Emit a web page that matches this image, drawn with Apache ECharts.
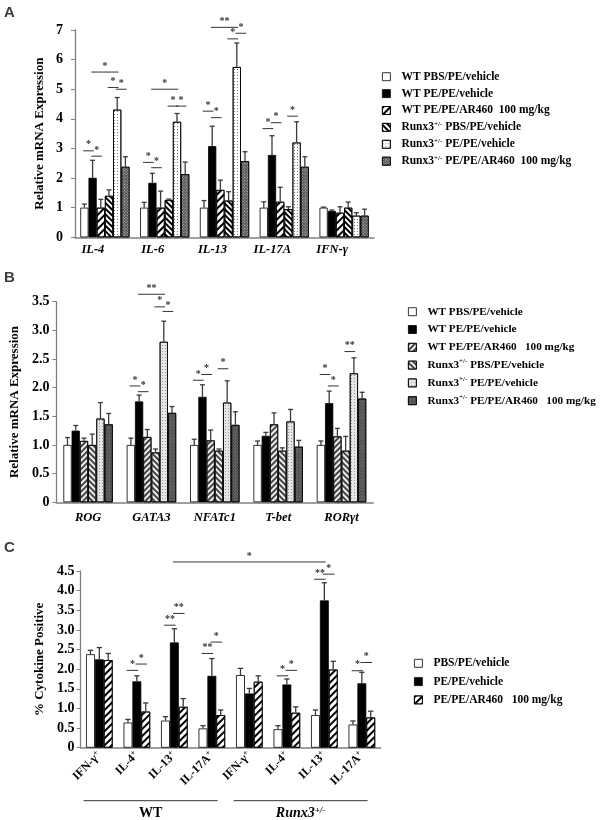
<!DOCTYPE html>
<html><head><meta charset="utf-8">
<script src="https://cdn.jsdelivr.net/npm/echarts@6/dist/echarts.min.js"></script>
<style>html,body{margin:0;padding:0;background:#fff}#c{width:600px;height:820px}</style>
</head><body><div id="c"></div>
<script>
// ================= DATA =================
// Panel A
const catsA = ['IL-4', 'IL-6', 'IL-13', 'IL-17A', 'IFN-γ'];
const namesA = ['WT PBS/PE/vehicle', 'WT PE/PE/vehicle', 'WT PE/PE/AR460  100 mg/kg',
  'Runx3+/- PBS/PE/vehicle', 'Runx3+/- PE/PE/vehicle', 'Runx3+/- PE/PE/AR460  100 mg/kg'];
const wtPbsA = [1.0, 1.0, 1.0, 1.0, 1.0];
const wtPeA = [2.01, 1.84, 3.08, 2.78, 0.89];
const wtArA = [1.0, 1.0, 1.6, 1.2, 0.83];
const rxPbsA = [1.4, 1.26, 1.24, 0.95, 1.0];
const rxPeA = [4.31, 3.9, 5.75, 3.2, 0.73];
const rxArA = [2.38, 2.13, 2.57, 2.38, 0.73];
const wtPbsAErr = [0.12, 0.18, 0.24, 0.2, 0.02];
const wtPeAErr = [0.59, 0.32, 0.67, 0.65, 0.03];
const wtArAErr = [0.28, 0.56, 0.33, 0.49, 0.2];
const rxPbsAErr = [0.2, 0.03, 0.3, 0.08, 0.19];
const rxPeAErr = [0.41, 0.28, 0.81, 0.7, 0.1];
const rxArAErr = [0.34, 0.41, 0.32, 0.34, 0.22];
// significance: [catFrom, barFrom, catTo, barTo, level, label]
const sigA = [
  [0,0,0,1,2.92,'*'],[0,1,0,2,2.74,'*'],[0,1,0,4,5.58,'*'],[0,3,0,4,5.06,'*'],[0,4,0,5,5.0,'*'],
  [1,0,1,1,2.53,'*'],[1,1,1,2,2.35,'*'],[1,1,1,4,5.0,'*'],[1,3,1,4,4.43,'*'],[1,4,1,5,4.43,'*'],
  [2,0,2,1,4.26,'*'],[2,1,2,2,4.04,'*'],[2,1,2,4,7.09,'**'],[2,3,2,4,6.7,'*'],[2,4,2,5,6.89,'*'],
  [3,0,3,1,3.67,'*'],[3,1,3,2,3.87,'*'],[3,3,3,4,4.09,'*']
];

// Panel B
const catsB = ['ROG', 'GATA3', 'NFATc1', 'T-bet', 'RORγt'];
const namesB = ['WT PBS/PE/vehicle', 'WT PE/PE/vehicle', 'WT PE/PE/AR460   100 mg/kg',
  'Runx3+/- PBS/PE/vehicle', 'Runx3+/- PE/PE/vehicle', 'Runx3+/- PE/PE/AR460   100 mg/kg'];
const wtPbsB = [1.0, 1.0, 1.0, 1.0, 1.0];
const wtPeB = [1.25, 1.76, 1.84, 1.16, 1.73];
const wtArB = [1.07, 1.14, 1.08, 1.36, 1.15];
const rxPbsB = [1.0, 0.87, 0.9, 0.9, 0.9];
const rxPeB = [1.46, 2.8, 1.74, 1.41, 2.25];
const rxArB = [1.36, 1.56, 1.35, 0.97, 1.81];
const wtPbsBErr = [0.13, 0.12, 0.1, 0.07, 0.07];
const wtPeBErr = [0.09, 0.11, 0.21, 0.06, 0.21];
const wtArBErr = [0.05, 0.13, 0.18, 0.2, 0.14];
const rxPbsBErr = [0.19, 0.06, 0.03, 0.05, 0.25];
const rxPeBErr = [0.28, 0.36, 0.38, 0.21, 0.27];
const rxArBErr = [0.19, 0.11, 0.23, 0.11, 0.11];
const sigB = [
  [1,0,1,1,2.03,'*'],[1,1,1,2,1.93,'*'],[1,1,1,4,3.63,'**'],[1,3,1,4,3.41,'*'],[1,4,1,5,3.33,'*'],
  [2,0,2,1,2.13,'*'],[2,1,2,2,2.23,'*'],[2,3,2,4,2.33,'*'],
  [4,0,4,1,2.23,'*'],[4,1,4,2,2.03,'*'],[4,3,4,4,2.63,'**']
];

// Panel C
const catsC = ['IFN-γ+', 'IL-4+', 'IL-13+', 'IL-17A+', 'IFN-γ+ ', 'IL-4+ ', 'IL-13+ ', 'IL-17A+ '];
const namesC = ['PBS/PE/vehicle', 'PE/PE/vehicle', 'PE/PE/AR460   100 mg/kg'];
const pbsC = [2.38, 0.64, 0.69, 0.49, 1.85, 0.47, 0.83, 0.59];
const peC = [2.25, 1.69, 2.68, 1.83, 1.38, 1.61, 3.75, 1.64];
const arC = [2.23, 0.92, 1.04, 0.83, 1.68, 0.89, 1.99, 0.77];
const pbsCErr = [0.1, 0.08, 0.1, 0.07, 0.17, 0.09, 0.13, 0.09];
const peCErr = [0.3, 0.14, 0.35, 0.44, 0.13, 0.14, 0.45, 0.28];
const arCErr = [0.17, 0.22, 0.21, 0.13, 0.15, 0.15, 0.21, 0.16];
const sigC = [
  [1,0,1,1,1.97,'*'],[1,1,1,2,2.13,'*'],
  [2,0,2,1,3.12,'**'],[2,1,2,2,3.42,'**'],
  [3,0,3,1,2.4,'**'],[3,1,3,2,2.69,'*'],
  [5,0,5,1,1.83,'*'],[5,1,5,2,1.97,'*'],
  [6,0,6,1,4.29,'**'],[6,1,6,2,4.42,'*'],
  [7,0,7,1,1.96,'*'],[7,1,7,2,2.17,'*'],
  [2,1,6,1,4.73,'*']
];
const groupsC = [['WT', 0, 3], ['Runx3+/-', 4, 7]];
const ticksA = { min: 0, max: 7, interval: 1 };
const ticksB = { min: 0, max: 3.5, interval: 0.5 };
const ticksC = { min: 0, max: 4.5, interval: 0.5 };

// ================= STYLE / LAYOUT =================
const SERIF = '"Liberation Serif", "DejaVu Serif", serif';
const GAP_A = 0.177, GAP_B = 0.22, GAP_C = 0.29;
const valsA = [wtPbsA, wtPeA, wtArA, rxPbsA, rxPeA, rxArA];
const errsA = [wtPbsAErr, wtPeAErr, wtArAErr, rxPbsAErr, rxPeAErr, rxArAErr];
const valsB = [wtPbsB, wtPeB, wtArB, rxPbsB, rxPeB, rxArB];
const errsB = [wtPbsBErr, wtPeBErr, wtArBErr, rxPbsBErr, rxPeBErr, rxArBErr];
const valsC = [pbsC, peC, arC];
const errsC = [pbsCErr, peCErr, arCErr];

const lineDecal = (rot, w, g, col) => ({symbol: 'rect', symbolSize: 1, dashArrayX: [1, 0], dashArrayY: [w, g], rotation: rot, color: col});
const dotDecal = (s, g, col, rot) => ({symbol: 'rect', symbolSize: 1, dashArrayX: [s, g], dashArrayY: [s, g], rotation: rot || 0, color: col});
const stylesA = [
  {color: '#fff'},
  {color: '#000'},
  {color: '#fff', decal: lineDecal(-Math.PI / 4, 1.3, 2.2, '#000')},
  {color: '#fff', decal: lineDecal(Math.PI / 4, 1.2, 1.5, '#000')},
  {color: '#fff', decal: dotDecal(1, 1.5, '#777')},
  {color: '#555', decal: dotDecal(1, 1, '#bbb', Math.PI / 4)}
];
const stylesB = [
  {color: '#fff'},
  {color: '#000'},
  {color: '#eee', decal: lineDecal(-Math.PI / 4, 1.2, 1.6, '#444')},
  {color: '#eee', decal: lineDecal(Math.PI / 4, 1.1, 1.4, '#444')},
  {color: '#e6e6e6', decal: dotDecal(1, 1.5, '#999')},
  {color: '#666', decal: dotDecal(1, 1, '#333', Math.PI / 4)}
];
const stylesC = [
  {color: '#fff'},
  {color: '#000'},
  {color: '#fff', decal: lineDecal(-Math.PI / 4, 1.6, 2.2, '#000')}
];

function barX(api, cat, idx, n, gap) {
  const c = api.coord([cat, 0])[0];
  const band = api.size([1, 0])[0];
  const gw = band * (1 - gap);
  const bw = gw / n;
  return {x: c - gw / 2 + (idx + 0.5) * bw, bw: bw};
}
function errSeries(vals, errs, n, gap, ax) {
  const data = [];
  vals.forEach((arr, s) => arr.forEach((v, c) => data.push([c, s, v, errs[s][c]])));
  return {
    type: 'custom', xAxisIndex: ax, yAxisIndex: ax, z: 5, silent: true,
    data: data, encode: {x: 0, y: 2},
    renderItem: function (p, api) {
      const cat = api.value(0), idx = api.value(1), v = api.value(2), e = api.value(3);
      const b = barX(api, cat, idx, n, gap);
      const y0 = api.coord([cat, v])[1], y1 = api.coord([cat, v + e])[1];
      const cap = Math.max(b.bw * 0.3, 2);
      const st = {stroke: '#3a3a3a', lineWidth: 1.3};
      return {type: 'group', children: [
        {type: 'line', shape: {x1: b.x, y1: y0, x2: b.x, y2: y1}, style: st},
        {type: 'line', shape: {x1: b.x - cap, y1: y1, x2: b.x + cap, y2: y1}, style: st}
      ]};
    }
  };
}
function sigSeries(list, n, gap, ax) {
  return {
    type: 'custom', xAxisIndex: ax, yAxisIndex: ax, z: 6, silent: true,
    data: list.map(d => [d[0], d[4]]), encode: {x: 0, y: 1},
    renderItem: function (p, api) {
      const d = list[p.dataIndex];
      const a = barX(api, d[0], d[1], n, gap), b = barX(api, d[2], d[3], n, gap);
      const y = api.coord([d[0], d[4]])[1];
      const ext = a.bw * 0.15;
      const x1 = a.x - ext, x2 = b.x + ext;
      return {type: 'group', children: [
        {type: 'line', shape: {x1: x1, y1: y, x2: x2, y2: y}, style: {stroke: '#333', lineWidth: 1}},
        {type: 'text', style: {text: d[5], x: (x1 + x2) / 2, y: y - 1, align: 'center', verticalAlign: 'bottom',
          font: 'bold 10px ' + SERIF, fill: '#333'}}
      ]};
    }
  };
}
function barSeries(names, vals, styles, ax, prefix, gap) {
  return names.map((nm, i) => ({
    type: 'bar', name: prefix + nm, xAxisIndex: ax, yAxisIndex: ax,
    data: vals[i], barGap: 0, barCategoryGap: (gap * 100) + '%',
    itemStyle: Object.assign({borderColor: '#000', borderWidth: 0.8}, styles[i]),
    emphasis: {disabled: true}
  }));
}
const supRich = {
  sup: {fontFamily: SERIF, fontWeight: 'bold', fontSize: 7, verticalAlign: 'top', padding: [0, 0, 6, 0]}
};
function legendFmt(name) {
  return name.slice(2).replace('Runx3+/-', 'Runx3{sup|+/-}');
}
function legend(names, prefix, left, top, gap, fs) {
  return {
    data: names.map(n => prefix + n), left: left, top: top, orient: 'vertical', padding: 0,
    itemWidth: 8, itemHeight: 8, itemGap: gap, selectedMode: false, icon: 'rect',
    formatter: legendFmt,
    itemStyle: {borderColor: '#000', borderWidth: 0.8},
    textStyle: {fontFamily: SERIF, fontWeight: 'bold', fontSize: fs, color: '#000', lineHeight: 14,
      padding: [0, 0, 0, 6], rich: supRich}
  };
}
const axisLineStyle = {lineStyle: {color: '#808080', width: 1.5}};
function yAxis(t, ax, name, gap, fmt, margin) {
  return Object.assign({
    type: 'value', gridIndex: ax, name: name, nameLocation: 'middle', nameGap: gap,
    nameTextStyle: {fontFamily: SERIF, fontWeight: 'bold', fontSize: 13, color: '#000'},
    axisLine: {show: true, lineStyle: {color: '#808080', width: 1.3}},
    axisTick: {show: true, length: 4, lineStyle: {color: '#808080'}},
    splitLine: {show: false},
    axisLabel: {fontFamily: SERIF, fontWeight: 'bold', fontSize: 14, color: '#000', margin: margin, formatter: fmt}
  }, t);
}
const decFmt = v => (v === 0 ? '0' : v.toFixed(1));
const intFmt = v => String(v);

const option = {
  animation: false,
  backgroundColor: '#fff',
  title: [
    {text: 'A', left: 4, top: 5, padding: 0, textStyle: {fontFamily: '"Liberation Sans", Arial, sans-serif', fontWeight: 'bold', fontSize: 15}},
    {text: 'B', left: 4, top: 270, padding: 0, textStyle: {fontFamily: '"Liberation Sans", Arial, sans-serif', fontWeight: 'bold', fontSize: 15}},
    {text: 'C', left: 4, top: 540, padding: 0, textStyle: {fontFamily: '"Liberation Sans", Arial, sans-serif', fontWeight: 'bold', fontSize: 15}}
  ],
  grid: [
    {left: 75, right: 226, top: 30, height: 207.3},
    {left: 52.2, right: 226.8, top: 301.7, height: 200.6},
    {left: 80.6, right: 219.4, top: 571, height: 176.7}
  ],
  legend: [
    legend(namesA, 'A|', 382, 69.7, 2.9, 11.5),
    legend(namesB, 'B|', 408, 304.7, 3.8, 11.2),
    legend(namesC, 'C|', 414, 656.3, 4.3, 11.5)
  ],
  xAxis: [
    {type: 'category', gridIndex: 0, data: catsA, axisLine: axisLineStyle, axisTick: {show: false},
      axisLabel: {interval: 0, margin: 6, fontFamily: SERIF, fontWeight: 'bold', fontStyle: 'italic', fontSize: 12.5, color: '#000',
        padding: [0, 24, 0, 0]}},
    {type: 'category', gridIndex: 1, data: catsB, axisLine: axisLineStyle, axisTick: {show: false},
      axisLabel: {interval: 0, margin: 9, fontFamily: SERIF, fontWeight: 'bold', fontStyle: 'italic', fontSize: 12.5, color: '#000'}},
    {type: 'category', gridIndex: 2, data: catsC, axisLine: axisLineStyle, axisTick: {show: false},
      axisLabel: {interval: 0, margin: 6, rotate: 45, fontFamily: SERIF, fontWeight: 'bold', fontSize: 12, color: '#000',
        formatter: v => v.trim().replace(/\+$/, '{sup|+}'),
        rich: {sup: {fontFamily: SERIF, fontWeight: 'bold', fontSize: 8, verticalAlign: 'top', padding: [0, 0, 6, 0]}}}}
  ],
  yAxis: [
    yAxis(ticksA, 0, 'Relative mRNA Expression', 29, intFmt, 12),
    yAxis(ticksB, 1, 'Relative mRNA Expression', 34, decFmt, 7),
    yAxis(ticksC, 2, '% Cytokine Positive', 34, decFmt, 6)
  ],
  series: [].concat(
    barSeries(namesA, valsA, stylesA, 0, 'A|', GAP_A),
    barSeries(namesB, valsB, stylesB, 1, 'B|', GAP_B),
    barSeries(namesC, valsC, stylesC, 2, 'C|', GAP_C),
    [errSeries(valsA, errsA, 6, GAP_A, 0), errSeries(valsB, errsB, 6, GAP_B, 1), errSeries(valsC, errsC, 3, GAP_C, 2),
     sigSeries(sigA, 6, GAP_A, 0), sigSeries(sigB, 6, GAP_B, 1), sigSeries(sigC, 3, GAP_C, 2),
     {
       type: 'custom', xAxisIndex: 2, yAxisIndex: 2, silent: true, z: 6,
       data: groupsC.map(g => [g[1], 0]), encode: {x: 0, y: 1},
       renderItem: function (p, api) {
         const g = groupsC[p.dataIndex];
         const band = api.size([1, 0])[0];
         const l = api.coord([g[1], 0])[0] - band / 2 + 3;
         const r = api.coord([g[2], 0])[0] + band / 2 - 13;
         const y0 = api.coord([g[1], 0])[1];
         const isRunx = g[0].indexOf('Runx') === 0;
         const txt = isRunx ? '{i|Runx3}{sup|+/-}' : '{n|' + g[0] + '}';
         return {type: 'group', children: [
           {type: 'line', shape: {x1: l, y1: y0 + 53, x2: r, y2: y0 + 53}, style: {stroke: '#333', lineWidth: 1}},
           {type: 'text', style: {text: txt, x: (l + r) / 2, y: y0 + 66, align: 'center', verticalAlign: 'middle',
             rich: {
               n: {fontFamily: SERIF, fontWeight: 'bold', fontSize: 14, fill: '#000'},
               i: {fontFamily: SERIF, fontWeight: 'bold', fontStyle: 'italic', fontSize: 14, fill: '#000'},
               sup: {fontFamily: SERIF, fontWeight: 'bold', fontStyle: 'italic', fontSize: 9, fill: '#000', verticalAlign: 'top', padding: [0, 0, 7, 0]}
             }}}
         ]};
       }
     }]
  )
};
const chart = echarts.init(document.getElementById('c'));
chart.setOption(option);
</script></body></html>
